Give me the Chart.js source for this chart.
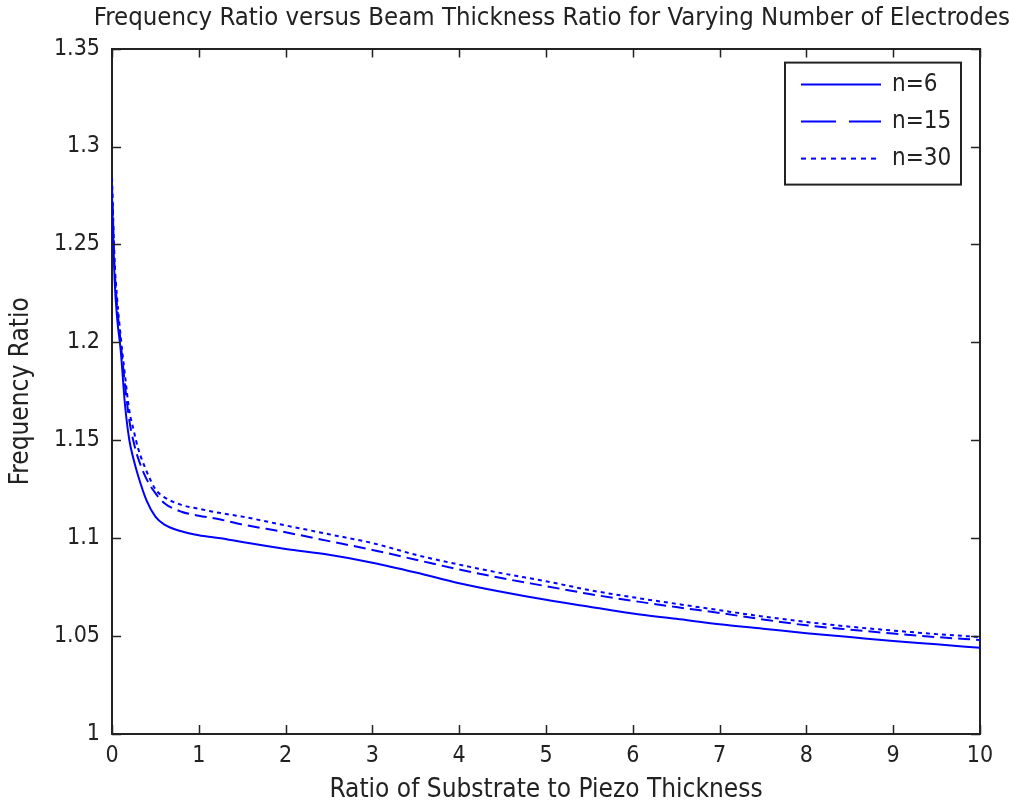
<!DOCTYPE html>
<html>
<head>
<meta charset="utf-8">
<script src="https://cdn.jsdelivr.net/npm/chart.js@4.4.1/dist/chart.umd.min.js"></script>
<style>
  body { margin: 0; background: #fff; }
  #wrap { width: 1014px; height: 806px; }
</style>
</head>
<body>
<div id="wrap"><canvas id="mainChart" width="1014" height="806"></canvas></div>
<script>
// x positions (substrate / piezo thickness ratio)
const ratios = [0, 0.03, 0.06, 0.1, 0.15, 0.2, 0.25, 0.3, 0.4, 0.5, 0.6, 0.8, 1, 1.25, 1.5, 2, 2.5, 3, 3.5, 4, 4.5, 5, 5.5, 6, 6.5, 7, 7.5, 8, 8.5, 9, 9.5, 10];

// frequency ratio for each electrode count
const n6 = [1.275, 1.232, 1.212, 1.196, 1.168, 1.150, 1.140, 1.132, 1.119, 1.111, 1.107, 1.1035, 1.1015, 1.100, 1.098, 1.0945, 1.0915, 1.0875, 1.0825, 1.077, 1.0725, 1.0685, 1.065, 1.0615, 1.0588, 1.056, 1.0538, 1.0515, 1.0495, 1.0475, 1.0458, 1.044];
const n15 = [1.280, 1.238, 1.218, 1.200, 1.178, 1.160, 1.149, 1.141, 1.130, 1.123, 1.118, 1.1135, 1.1115, 1.1095, 1.107, 1.103, 1.0985, 1.094, 1.089, 1.084, 1.0795, 1.0755, 1.0715, 1.068, 1.0648, 1.0618, 1.0585, 1.0555, 1.0533, 1.0513, 1.0495, 1.048];
const n30 = [1.284, 1.242, 1.222, 1.203, 1.183, 1.165, 1.155, 1.146, 1.134, 1.125, 1.121, 1.117, 1.115, 1.1128, 1.111, 1.1065, 1.102, 1.0975, 1.0915, 1.0865, 1.082, 1.078, 1.0735, 1.0698, 1.0665, 1.0632, 1.060, 1.0572, 1.0548, 1.0528, 1.051, 1.0495];

const seriesLabels = ["n=6", "n=15", "n=30"];

// tick labels
const xTicks = [0, 1, 2, 3, 4, 5, 6, 7, 8, 9, 10];
const yTicks = [1, 1.05, 1.1, 1.15, 1.2, 1.25, 1.3, 1.35];

const FONT = '"Liberation Sans Narrow", "DejaVu Sans Condensed", "Liberation Sans", sans-serif';
const INK = "#222";

function pts(ys) {
  return ratios.map((x, i) => ({ x: x, y: ys[i] }));
}

// inward tick marks on all four sides (matlab style box)
const boxTicks = {
  id: "boxTicks",
  afterDatasetsDraw(chart) {
    const { ctx, chartArea: a, scales } = chart;
    const len = 9;
    ctx.save();
    ctx.strokeStyle = INK;
    ctx.lineWidth = 1.5;
    ctx.beginPath();
    scales.x.ticks.forEach(t => {
      const px = Math.round(scales.x.getPixelForValue(t.value)) + 0.5;
      ctx.moveTo(px, a.bottom); ctx.lineTo(px, a.bottom - len);
      ctx.moveTo(px, a.top); ctx.lineTo(px, a.top + len);
    });
    scales.y.ticks.forEach(t => {
      const py = Math.round(scales.y.getPixelForValue(t.value)) + 0.5;
      ctx.moveTo(a.left, py); ctx.lineTo(a.left + len, py);
      ctx.moveTo(a.right, py); ctx.lineTo(a.right - len, py);
    });
    ctx.stroke();
    ctx.restore();
  }
};

// boxed legend in the upper right
const boxLegend = {
  id: "boxLegend",
  afterDraw(chart) {
    const { ctx, chartArea: a } = chart;
    const w = 176, h = 122;
    const x0 = a.right - 19 - w, y0 = a.top + 14;
    ctx.save();
    ctx.fillStyle = "#fff";
    ctx.fillRect(x0, y0, w, h);
    ctx.strokeStyle = INK;
    ctx.lineWidth = 2;
    ctx.strokeRect(x0, y0, w, h);
    ctx.font = "24px " + FONT;
    ctx.textBaseline = "middle";
    chart.data.datasets.forEach((ds, i) => {
      const y = y0 + 22 + i * 37;
      ctx.strokeStyle = ds.borderColor;
      ctx.lineWidth = ds.borderWidth;
      ctx.setLineDash(ds.legendDash || []);
      ctx.beginPath();
      ctx.moveTo(x0 + 16, y);
      ctx.lineTo(x0 + 96, y);
      ctx.stroke();
      ctx.setLineDash([]);
      ctx.fillStyle = INK;
      ctx.fillText(ds.label, x0 + 107, y);
    });
    ctx.restore();
  }
};

const ctx = document.getElementById("mainChart");

new Chart(ctx, {
  type: "line",
  data: {
    datasets: [
      { label: seriesLabels[0], data: pts(n6), borderColor: "#0000ff", borderWidth: 2, borderDash: [], legendDash: [] },
      { label: seriesLabels[1], data: pts(n15), borderColor: "#0000ff", borderWidth: 2, borderDash: [12, 6], legendDash: [35, 13] },
      { label: seriesLabels[2], data: pts(n30), borderColor: "#0000ff", borderWidth: 2, borderDash: [4, 4], legendDash: [5, 5] }
    ]
  },
  options: {
    responsive: false,
    animation: false,
    devicePixelRatio: 1,
    layout: { padding: { left: 0, right: 4, top: 0, bottom: 0 } },
    elements: {
      point: { radius: 0 },
      line: { cubicInterpolationMode: "monotone", fill: false }
    },
    plugins: {
      legend: { display: false },
      tooltip: { enabled: false },
      title: {
        display: true,
        text: "Frequency Ratio versus Beam Thickness Ratio for Varying Number of Electrodes",
        align: "end",
        color: INK,
        font: { family: FONT, size: 25.5, weight: "normal" },
        padding: { top: 3, bottom: 15 }
      }
    },
    scales: {
      x: {
        type: "linear",
        position: "bottom",
        min: 0, max: 10,
        afterBuildTicks: s => { s.ticks = xTicks.map(v => ({ value: v })); },
        afterFit: s => { s.height = 72; },
        ticks: { color: INK, padding: 8, maxRotation: 0, autoSkip: false, font: { family: FONT, size: 23 } },
        grid: { display: false, drawTicks: false },
        border: { display: true, color: INK, width: 2 },
        title: {
          display: true,
          text: "Ratio of Substrate to Piezo Thickness",
          color: INK,
          font: { family: FONT, size: 26 },
          padding: { top: 0, bottom: 0 }
        }
      },
      x2: {
        type: "linear",
        position: "top",
        min: 0, max: 10,
        afterFit: s => { s.height = 0; },
        ticks: { display: false },
        grid: { display: false, drawTicks: false },
        border: { display: true, color: INK, width: 2 }
      },
      y: {
        type: "linear",
        position: "left",
        min: 1, max: 1.35,
        afterBuildTicks: s => { s.ticks = yTicks.map(v => ({ value: v })); },
        afterFit: s => { s.width = 112; },
        ticks: { color: INK, padding: 12, font: { family: FONT, size: 23 }, callback: v => String(v) },
        grid: { display: false, drawTicks: false },
        border: { display: true, color: INK, width: 2 },
        title: {
          display: true,
          text: "Frequency Ratio",
          color: INK,
          font: { family: FONT, size: 26 },
          padding: { top: 6, bottom: 0 }
        }
      },
      y2: {
        type: "linear",
        position: "right",
        min: 1, max: 1.35,
        afterFit: s => { s.width = 30; },
        ticks: { display: false },
        grid: { display: false, drawTicks: false },
        border: { display: true, color: INK, width: 2 }
      }
    }
  },
  plugins: [boxTicks, boxLegend]
});
</script>
</body>
</html>
